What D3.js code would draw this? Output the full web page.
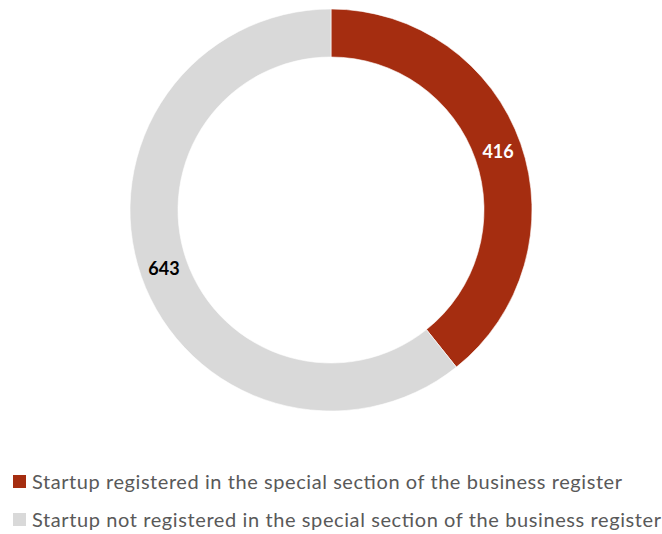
<!DOCTYPE html>
<html>
<head>
<meta charset="utf-8">
<script src="https://cdn.jsdelivr.net/npm/d3@7"></script>
<style>
  body { margin: 0; background: #fff; }
</style>
</head>
<body>
<div id="chart"></div>
<script>
// data
let categories = ["Startup registered in the special section of the business register",
                  "Startup not registered in the special section of the business register"];
let values = [416, 643];
let colors = ["#A52D10", "#D9D9D9"];
let labelColors = ["#ffffff", "#000000"];
let legendWidths = [590, 629];

var width = 662, height = 534;
var cx = 331, cy = 210, outerR = 201, innerR = 153;

var svg = d3.select("#chart")
    .append("svg")
    .attr("width", width)
    .attr("height", height);

var g = svg.append("g")
    .attr("transform", `translate(${cx},${cy})`);

var data = categories.map((c, i) => ({name: c, value: values[i], color: colors[i], lab: labelColors[i], w: legendWidths[i]}));

var pie = d3.pie().sort(null).value(d => d.value);
var arc = d3.arc().innerRadius(innerR).outerRadius(outerR);
var labelArc = d3.arc().innerRadius((innerR + outerR) / 2).outerRadius((innerR + outerR) / 2);

var arcs = pie(data);

g.selectAll("path")
    .data(arcs)
    .join("path")
    .attr("d", arc)
    .attr("fill", d => d.data.color)
    .attr("stroke", "#fff")
    .attr("stroke-width", 0.6);

// value labels
g.selectAll("text")
    .data(arcs)
    .join("text")
    .attr("transform", d => `translate(${labelArc.centroid(d)})`)
    .attr("text-anchor", "middle")
    .attr("dy", "0.36em")
    .style("font-family", "Lato, 'Open Sans', sans-serif")
    .style("font-weight", "bold")
    .style("font-size", "18px")
    .attr("fill", d => d.data.lab)
    .text(d => d.data.value);

// legend
var legend = svg.append("g")
    .selectAll("g")
    .data(data)
    .join("g")
    .attr("transform", (d, i) => `translate(13,${475 + i * 38})`);

legend.append("rect")
    .attr("width", 13)
    .attr("height", 13)
    .attr("fill", d => d.color);

legend.append("text")
    .attr("x", 19)
    .attr("y", 14)
    .attr("textLength", d => d.w)
    .attr("lengthAdjust", "spacing")
    .style("font-family", "Lato, 'Open Sans', sans-serif")
    .style("font-size", "20px")
    .attr("fill", "#595959")
    .text(d => d.name);
</script>
</body>
</html>
